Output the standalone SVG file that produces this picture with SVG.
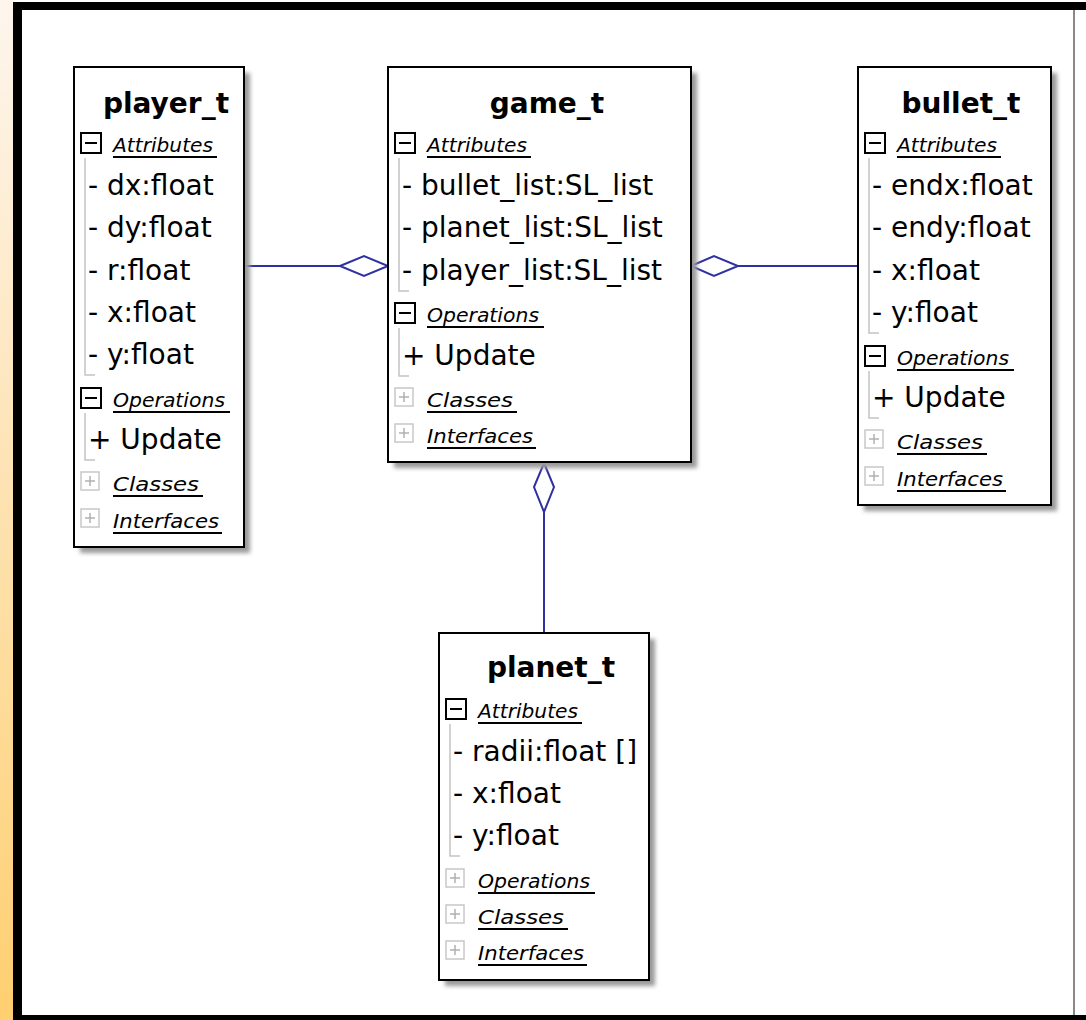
<svg xmlns="http://www.w3.org/2000/svg" width="1086" height="1020" viewBox="0 0 1086 1020">
<defs>
<linearGradient id="side" x1="0" y1="0" x2="0" y2="1">
<stop offset="0" stop-color="#fdf6ee"/>
<stop offset="0.5" stop-color="#fde2b0"/>
<stop offset="1" stop-color="#ffcf70"/>
</linearGradient>
<filter id="blur" x="-10%" y="-10%" width="120%" height="120%"><feGaussianBlur stdDeviation="2"/></filter>
<style>
.box{fill:#fff;stroke:#000;stroke-width:2}
.shadow{fill:#9a9a9a;filter:url(#blur)}
.title{font-family:"DejaVu Sans",sans-serif;font-weight:bold;font-size:28px;text-anchor:middle;fill:#000}
.item{font-family:"DejaVu Sans",sans-serif;font-size:28px;fill:#000}
.head{font-family:"DejaVu Sans",sans-serif;font-style:italic;font-size:20px;fill:#000}
.ul{stroke:#000;stroke-width:2}
.tree{fill:none;stroke:#c4c4c4;stroke-width:1.5}
.open{fill:#fff;stroke:#000;stroke-width:2}
.opensign{stroke:#000;stroke-width:2}
.shut{fill:#fff;stroke:#c8c8c8;stroke-width:1.5}
.shutsign{stroke:#b0b0b0;stroke-width:1.5}
.conn{fill:none;stroke:#3030a0;stroke-width:2}
.dia{fill:#fff;stroke:#3030a0;stroke-width:2}
</style>
</defs>
<rect x="0" y="0" width="1086" height="1020" fill="#ffffff"/>
<rect x="0" y="0" width="13" height="1020" fill="url(#side)"/>
<rect x="13" y="2" width="1073" height="8" fill="#000"/>
<rect x="13" y="2" width="9" height="1018" fill="#000"/>
<rect x="13" y="1015" width="1073" height="5" fill="#000"/>
<line x1="1074" y1="10" x2="1074" y2="1015" stroke="#888" stroke-width="2"/>

<g id="connectors">
<line class="conn" x1="245" y1="266" x2="340" y2="266"/>
<polygon class="dia" points="340,266 364,256 388,266 364,276"/>
<line class="conn" x1="738" y1="266" x2="858" y2="266"/>
<polygon class="dia" points="691,266 714,256 738,266 714,276"/>
<line class="conn" x1="544" y1="512" x2="544" y2="633"/>
<polygon class="dia" points="544,463 554,487 544,512 534,487"/>
</g>

<g id="player_t" transform="translate(74,67)">
<rect class="shadow" x="6" y="6" width="170" height="480"/>
<rect class="box" x="0" y="0" width="170" height="480"/>
<text class="title" x="92" y="46">player_t</text>
<rect class="open" x="7" y="66" width="20" height="20"/><line class="opensign" x1="11" y1="76" x2="23" y2="76"/>
<text class="head" x="39" y="85" textLength="100" lengthAdjust="spacingAndGlyphs">Attributes</text><line class="ul" x1="39" y1="90" x2="143" y2="90"/>
<polyline class="tree" points="11,91 11,308 21,308"/>
<text class="item" x="14" y="128">- dx:float</text>
<text class="item" x="14" y="170">- dy:float</text>
<text class="item" x="14" y="213">- r:float</text>
<text class="item" x="14" y="255">- x:float</text>
<text class="item" x="14" y="297">- y:float</text>
<rect class="open" x="7" y="321" width="20" height="20"/><line class="opensign" x1="11" y1="331" x2="23" y2="331"/>
<text class="head" x="39" y="340" textLength="112" lengthAdjust="spacingAndGlyphs">Operations</text><line class="ul" x1="39" y1="345" x2="156" y2="345"/>
<polyline class="tree" points="11,346 11,393 21,393"/>
<text class="item" x="14" y="382">+ Update</text>
<rect class="shut" x="7" y="405" width="18" height="18"/><line class="shutsign" x1="11" y1="414" x2="21" y2="414"/><line class="shutsign" x1="16" y1="409" x2="16" y2="419"/>
<text class="head" x="39" y="424" textLength="86" lengthAdjust="spacingAndGlyphs">Classes</text><line class="ul" x1="39" y1="429" x2="129" y2="429"/>
<rect class="shut" x="7" y="442" width="18" height="18"/><line class="shutsign" x1="11" y1="451" x2="21" y2="451"/><line class="shutsign" x1="16" y1="446" x2="16" y2="456"/>
<text class="head" x="39" y="461" textLength="106" lengthAdjust="spacingAndGlyphs">Interfaces</text><line class="ul" x1="39" y1="466" x2="148" y2="466"/>
</g>

<g id="game_t" transform="translate(388,67)">
<rect class="shadow" x="6" y="6" width="303" height="395"/>
<rect class="box" x="0" y="0" width="303" height="395"/>
<text class="title" x="159" y="46">game_t</text>
<rect class="open" x="7" y="66" width="20" height="20"/><line class="opensign" x1="11" y1="76" x2="23" y2="76"/>
<text class="head" x="39" y="85" textLength="100" lengthAdjust="spacingAndGlyphs">Attributes</text><line class="ul" x1="39" y1="90" x2="143" y2="90"/>
<polyline class="tree" points="11,91 11,224 21,224"/>
<text class="item" x="14" y="128">- bullet_list:SL_list</text>
<text class="item" x="14" y="170">- planet_list:SL_list</text>
<text class="item" x="14" y="213">- player_list:SL_list</text>
<rect class="open" x="7" y="236" width="20" height="20"/><line class="opensign" x1="11" y1="246" x2="23" y2="246"/>
<text class="head" x="39" y="255" textLength="112" lengthAdjust="spacingAndGlyphs">Operations</text><line class="ul" x1="39" y1="260" x2="156" y2="260"/>
<polyline class="tree" points="11,261 11,309 21,309"/>
<text class="item" x="14" y="298">+ Update</text>
<rect class="shut" x="7" y="321" width="18" height="18"/><line class="shutsign" x1="11" y1="330" x2="21" y2="330"/><line class="shutsign" x1="16" y1="325" x2="16" y2="335"/>
<text class="head" x="39" y="340" textLength="86" lengthAdjust="spacingAndGlyphs">Classes</text><line class="ul" x1="39" y1="345" x2="129" y2="345"/>
<rect class="shut" x="7" y="357" width="18" height="18"/><line class="shutsign" x1="11" y1="366" x2="21" y2="366"/><line class="shutsign" x1="16" y1="361" x2="16" y2="371"/>
<text class="head" x="39" y="376" textLength="106" lengthAdjust="spacingAndGlyphs">Interfaces</text><line class="ul" x1="39" y1="381" x2="148" y2="381"/>
</g>

<g id="bullet_t" transform="translate(858,67)">
<rect class="shadow" x="6" y="6" width="193" height="438"/>
<rect class="box" x="0" y="0" width="193" height="438"/>
<text class="title" x="103" y="46">bullet_t</text>
<rect class="open" x="7" y="66" width="20" height="20"/><line class="opensign" x1="11" y1="76" x2="23" y2="76"/>
<text class="head" x="39" y="85" textLength="100" lengthAdjust="spacingAndGlyphs">Attributes</text><line class="ul" x1="39" y1="90" x2="143" y2="90"/>
<polyline class="tree" points="11,91 11,266 21,266"/>
<text class="item" x="14" y="128">- endx:float</text>
<text class="item" x="14" y="170">- endy:float</text>
<text class="item" x="14" y="213">- x:float</text>
<text class="item" x="14" y="255">- y:float</text>
<rect class="open" x="7" y="279" width="20" height="20"/><line class="opensign" x1="11" y1="289" x2="23" y2="289"/>
<text class="head" x="39" y="298" textLength="112" lengthAdjust="spacingAndGlyphs">Operations</text><line class="ul" x1="39" y1="303" x2="156" y2="303"/>
<polyline class="tree" points="11,304 11,351 21,351"/>
<text class="item" x="14" y="340">+ Update</text>
<rect class="shut" x="7" y="363" width="18" height="18"/><line class="shutsign" x1="11" y1="372" x2="21" y2="372"/><line class="shutsign" x1="16" y1="367" x2="16" y2="377"/>
<text class="head" x="39" y="382" textLength="86" lengthAdjust="spacingAndGlyphs">Classes</text><line class="ul" x1="39" y1="387" x2="129" y2="387"/>
<rect class="shut" x="7" y="400" width="18" height="18"/><line class="shutsign" x1="11" y1="409" x2="21" y2="409"/><line class="shutsign" x1="16" y1="404" x2="16" y2="414"/>
<text class="head" x="39" y="419" textLength="106" lengthAdjust="spacingAndGlyphs">Interfaces</text><line class="ul" x1="39" y1="424" x2="148" y2="424"/>
</g>

<g id="planet_t" transform="translate(439,633)">
<rect class="shadow" x="6" y="6" width="210" height="347"/>
<rect class="box" x="0" y="0" width="210" height="347"/>
<text class="title" x="112" y="44">planet_t</text>
<rect class="open" x="7" y="66" width="20" height="20"/><line class="opensign" x1="11" y1="76" x2="23" y2="76"/>
<text class="head" x="39" y="85" textLength="100" lengthAdjust="spacingAndGlyphs">Attributes</text><line class="ul" x1="39" y1="90" x2="143" y2="90"/>
<polyline class="tree" points="11,91 11,223 21,223"/>
<text class="item" x="14" y="128">- radii:float []</text>
<text class="item" x="14" y="170">- x:float</text>
<text class="item" x="14" y="212">- y:float</text>
<rect class="shut" x="7" y="236" width="18" height="18"/><line class="shutsign" x1="11" y1="245" x2="21" y2="245"/><line class="shutsign" x1="16" y1="240" x2="16" y2="250"/>
<text class="head" x="39" y="255" textLength="112" lengthAdjust="spacingAndGlyphs">Operations</text><line class="ul" x1="39" y1="260" x2="156" y2="260"/>
<rect class="shut" x="7" y="272" width="18" height="18"/><line class="shutsign" x1="11" y1="281" x2="21" y2="281"/><line class="shutsign" x1="16" y1="276" x2="16" y2="286"/>
<text class="head" x="39" y="291" textLength="86" lengthAdjust="spacingAndGlyphs">Classes</text><line class="ul" x1="39" y1="296" x2="129" y2="296"/>
<rect class="shut" x="7" y="308" width="18" height="18"/><line class="shutsign" x1="11" y1="317" x2="21" y2="317"/><line class="shutsign" x1="16" y1="312" x2="16" y2="322"/>
<text class="head" x="39" y="327" textLength="106" lengthAdjust="spacingAndGlyphs">Interfaces</text><line class="ul" x1="39" y1="332" x2="148" y2="332"/>
</g>
</svg>
